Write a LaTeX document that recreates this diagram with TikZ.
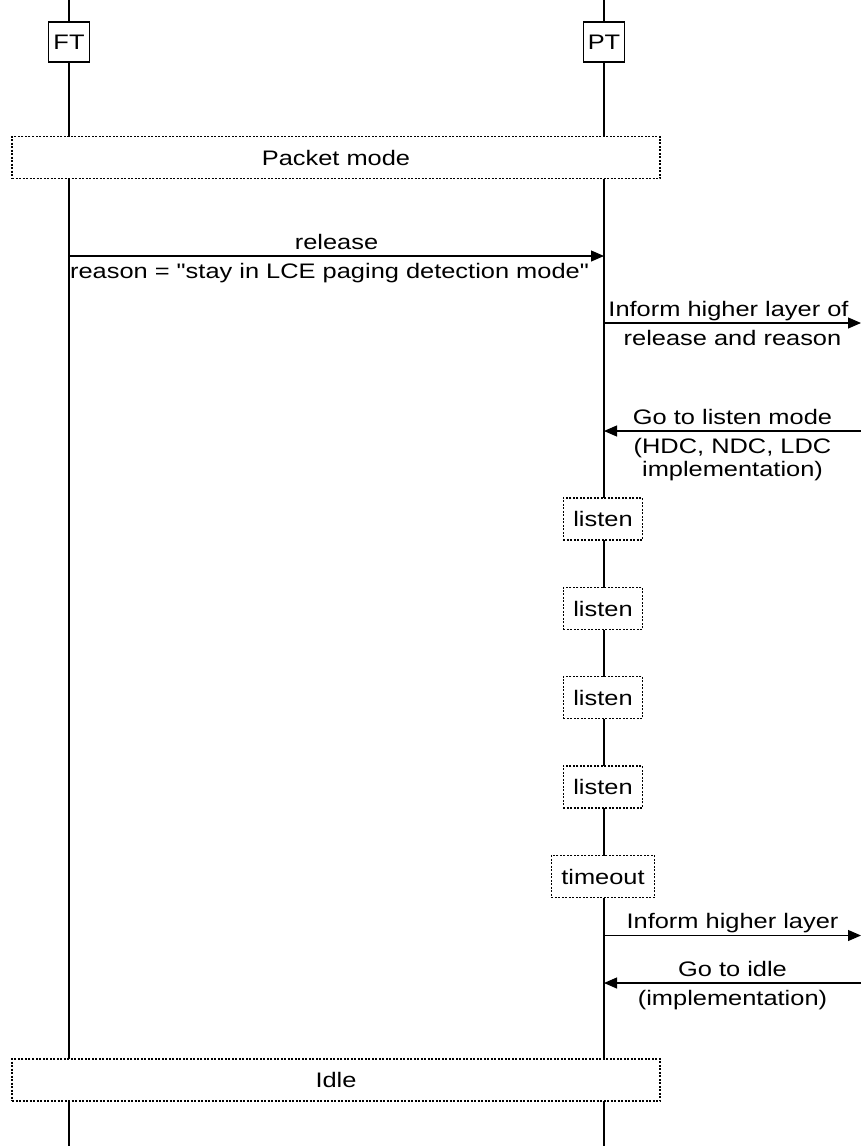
\documentclass[tikz,border=0pt]{standalone}
\usepackage{fontspec}
\setmainfont[FakeStretch=1.21, Ligatures=TeXOff]{Liberation Sans}
\usetikzlibrary{arrows.meta}
\begin{document}
\begin{tikzpicture}[x=1pt,y=-1pt,
  font=\fontsize{21}{23}\selectfont,
  every node/.style={inner sep=0pt},
  ent/.style={draw, fill=white, line width=1.1pt, minimum width=41pt, minimum height=40pt},
  statebox/.style={draw, fill=white, line width=1.1pt, dash pattern=on 2pt off 1.5pt, minimum height=42pt, inner xsep=10pt},
  msg/.style={line width=1.1pt, -{Triangle[length=13pt,width=11pt]}},
  life/.style={line width=1.1pt},
  up/.style={anchor=base, yshift=7pt},
  dn/.style={anchor=base, yshift=-22pt},
  dnn/.style={anchor=base, yshift=-45pt}]
\useasboundingbox (0,0) rectangle (861,1146);
% lifelines
\coordinate (ftT) at (69,0);  \coordinate (ftB) at (69,1146);
\coordinate (ptT) at (604,0); \coordinate (ptB) at (604,1146);
\draw[life] (ftT) -- (ftB);
\draw[life] (ptT) -- (ptB);
% entities
\node[ent] (ft) at (69,42) {FT};
\node[ent] (pt) at (604,42) {PT};
% states
\node[statebox, minimum width=648pt] (pm) at (336,157.5) {Packet mode};
\node[statebox] (l1) at (603,519) {listen};
\node[statebox] (l2) at (603,608.5) {listen};
\node[statebox] (l3) at (603,697.5) {listen};
\node[statebox] (l4) at (603,787) {listen};
\node[statebox] (to) at (603,876.5) {timeout};
\node[statebox, minimum width=648pt] (idle) at (336,1080) {Idle};
% messages
\coordinate (m1a) at (69,256);  \coordinate (m1b) at (604,256);
\draw[msg] (m1a) -- (m1b)
  node[midway, up] (m1t) {release}
  node[midway, dn, xshift=-7pt] (m1u) {reason = "stay in LCE paging detection mode"};
\coordinate (m2a) at (604,323); \coordinate (m2b) at (861,323);
\draw[msg] (m2a) -- (m2b)
  node[midway, up, xshift=-4pt] (m2t) {Inform higher layer of}
  node[midway, dn] (m2u) {release and reason};
\coordinate (m3a) at (861,431); \coordinate (m3b) at (604,431);
\draw[msg] (m3a) -- (m3b)
  node[midway, up] (m3t) {Go to listen mode}
  node[midway, dn] (m3u) {(HDC, NDC, LDC}
  node[midway, dnn] (m3v) {implementation)};
\coordinate (m4a) at (604,935.5); \coordinate (m4b) at (861,935.5);
\draw[msg] (m4a) -- (m4b)
  node[midway, up] (m4t) {Inform higher layer};
\coordinate (m5a) at (861,983); \coordinate (m5b) at (604,983);
\draw[msg] (m5a) -- (m5b)
  node[midway, up] (m5t) {Go to idle}
  node[midway, dn] (m5u) {(implementation)};
\end{tikzpicture}
\end{document}
